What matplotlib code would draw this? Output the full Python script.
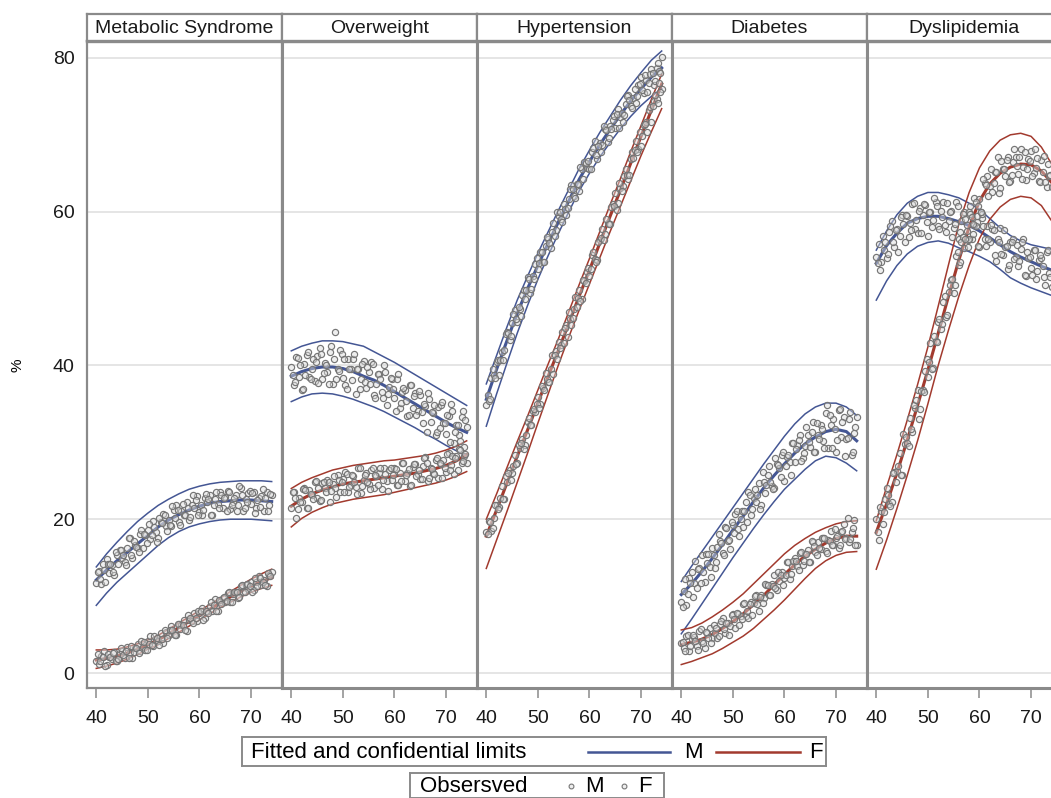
import matplotlib.pyplot as plt


titles = ["Metabolic Syndrome", "Overweight", "Hypertension", "Diabetes", "Dyslipidemia"]
x_ticks = [40, 50, 60, 70]
y_ticks = [0, 20, 40, 60, 80]

ages_fit = [40, 42, 44, 46, 48, 50, 52, 54, 56, 58, 60, 62, 64, 66, 68, 70, 72, 74]
ages_obs = [40, 40.5, 41, 41.5, 42, 42.5, 43, 43.5, 44, 44.5, 45, 45.5, 46, 46.5, 47, 47.5,
            48, 48.5, 49, 49.5, 50, 50.5, 51, 51.5, 52, 52.5, 53, 53.5, 54, 54.5, 55, 55.5,
            56, 56.5, 57, 57.5, 58, 58.5, 59, 59.5, 60, 60.5, 61, 61.5, 62, 62.5, 63, 63.5,
            64, 64.5, 65, 65.5, 66, 66.5, 67, 67.5, 68, 68.5, 69, 69.5, 70, 70.5, 71, 71.5,
            72, 72.5, 73, 73.5, 74]
ages_obs2 = [40.25, 40.75, 41.25, 41.75, 42.25, 42.75, 43.25, 43.75, 44.25, 44.75, 45.25, 45.75,
             46.25, 46.75, 47.25, 47.75, 48.25, 48.75, 49.25, 49.75, 50.25, 50.75, 51.25, 51.75,
             52.25, 52.75, 53.25, 53.75, 54.25, 54.75, 55.25, 55.75, 56.25, 56.75, 57.25, 57.75,
             58.25, 58.75, 59.25, 59.75, 60.25, 60.75, 61.25, 61.75, 62.25, 62.75, 63.25, 63.75,
             64.25, 64.75, 65.25, 65.75, 66.25, 66.75, 67.25, 67.75, 68.25, 68.75, 69.25, 69.75,
             70.25, 70.75, 71.25, 71.75, 72.25, 72.75, 73.25, 73.75]

# Metabolic syndrome
met_m_fit = [12.1, 13.4, 14.6, 15.7, 16.8, 17.9, 19.0, 19.9, 20.6, 21.2, 21.7, 22.1, 22.3, 22.4, 22.5, 22.5, 22.4, 22.3]
met_m_hi = [13.8, 15.5, 17.0, 18.4, 19.7, 20.8, 21.8, 22.6, 23.3, 23.9, 24.3, 24.6, 24.8, 24.9, 25.0, 25.0, 25.0, 24.9]
met_m_lo = [8.8, 10.4, 11.8, 13.0, 14.2, 15.4, 16.6, 17.6, 18.4, 19.0, 19.4, 19.7, 19.9, 20.0, 20.0, 20.0, 19.9, 19.8]
met_f_fit = [1.7, 1.9, 2.2, 2.6, 3.1, 3.7, 4.3, 5.1, 5.9, 6.7, 7.5, 8.3, 9.1, 9.9, 10.6, 11.3, 11.9, 12.4]
met_f_hi = [3.0, 3.0, 3.1, 3.4, 3.8, 4.3, 4.9, 5.7, 6.5, 7.3, 8.1, 8.9, 9.7, 10.6, 11.4, 12.2, 12.9, 13.5]
met_f_lo = [0.6, 0.9, 1.3, 1.8, 2.4, 3.1, 3.7, 4.5, 5.3, 6.1, 6.9, 7.7, 8.5, 9.2, 9.9, 10.5, 11.0, 11.4]
met_m_obs = [11.7, 13.3, 11.6, 13.4, 14.8, 13.0, 14.1, 12.8, 15.4, 16.0,
             15.0, 14.5, 16.3, 17.6, 15.0, 16.7, 16.3, 18.1, 16.2, 18.0,
             18.6, 17.4, 19.8, 18.4, 17.6, 19.7, 20.7, 19.1, 19.9, 19.1,
             21.2, 21.9, 19.7, 21.1, 20.5, 22.2, 19.9, 21.9, 21.4, 23.0,
             21.0, 20.6, 22.7, 22.2, 23.1, 20.6, 22.6, 22.0, 23.5, 21.5,
             22.9, 23.7, 21.3, 22.2, 23.2, 21.9, 24.0, 21.1, 22.6, 23.4,
             22.0, 23.6, 21.5, 22.7, 23.0, 21.1, 23.6, 21.9, 23.1]
met_m_obs2 = [13.1, 12.2, 14.2, 11.8, 14.2, 14.2, 13.1, 15.7, 14.2, 16.0,
              15.4, 14.0, 17.5, 15.4, 17.2, 16.4, 15.7, 18.6, 18.1, 16.9,
              19.4, 18.0, 19.0, 17.1, 20.2, 19.5, 20.5, 18.5, 19.2, 21.7,
              20.2, 21.2, 19.3, 22.0, 20.6, 21.4, 20.3, 23.1, 22.5, 20.6,
              21.8, 21.2, 23.3, 22.6, 20.6, 21.9, 23.6, 21.4, 23.1, 22.8,
              21.1, 23.5, 21.9, 22.7, 21.1, 24.3, 23.2, 21.5, 22.3, 23.7,
              23.4, 20.8, 22.5, 21.6, 23.9, 22.7, 21.1, 23.3]
met_f_obs = [1.6, 1.2, 2.2, 2.8, 1.1, 2.1, 1.8, 2.7, 1.5, 2.5,
             2.8, 2.0, 3.4, 2.6, 2.0, 3.3, 3.8, 2.9, 3.4, 3.0,
             4.2, 4.8, 3.5, 4.3, 4.1, 5.2, 3.9, 5.3, 5.0, 6.1,
             5.1, 5.0, 6.4, 6.2, 6.9, 5.5, 6.9, 6.7, 7.8, 6.8,
             7.8, 8.5, 7.2, 8.0, 8.7, 8.1, 9.6, 8.1, 9.2, 9.8,
             9.2, 10.4, 9.3, 10.3, 10.6, 9.7, 11.3, 10.5, 11.4, 10.9,
             11.8, 10.8, 11.8, 12.6, 11.5, 12.1, 11.3, 12.8, 13.1]
met_f_obs2 = [2.5, 1.6, 2.1, 0.9, 2.5, 2.1, 2.6, 1.5, 1.8, 3.2,
              2.4, 2.9, 1.9, 3.5, 2.7, 3.2, 2.6, 4.2, 4.0, 3.0,
              3.8, 3.6, 4.8, 4.5, 3.6, 4.4, 5.6, 4.5, 5.6, 5.6,
              4.9, 6.4, 5.7, 6.3, 5.6, 7.6, 7.2, 6.5, 7.1, 8.1,
              8.1, 6.9, 8.1, 7.8, 9.2, 8.8, 8.1, 9.5, 9.0, 9.9,
              9.4, 10.5, 9.2, 10.5, 10.5, 9.9, 11.4, 10.6, 11.6, 11.3,
              10.5, 12.4, 11.3, 12.3, 11.9, 11.4, 13.0, 12.6]

# Overweight
ovw_m_fit = [38.6, 39.2, 39.6, 39.8, 39.8, 39.6, 39.2, 38.6, 38.1, 37.4, 36.6, 35.8, 35.0, 34.2, 33.4, 32.6, 31.9, 31.3]
ovw_m_hi = [41.9, 42.5, 42.9, 43.2, 43.2, 43.1, 42.8, 42.5, 41.8, 41.1, 40.4, 39.6, 38.8, 38.0, 37.2, 36.4, 35.6, 34.8]
ovw_m_lo = [35.3, 35.9, 36.3, 36.4, 36.3, 36.0, 35.6, 35.1, 34.6, 34.0, 33.3, 32.6, 31.9, 31.1, 30.4, 29.6, 28.9, 28.2]
ovw_f_fit = [21.7, 22.6, 23.3, 23.8, 24.2, 24.6, 24.8, 25.0, 25.2, 25.4, 25.6, 25.8, 26.0, 26.3, 26.6, 27.0, 27.6, 28.4]
ovw_f_hi = [24.0, 24.8, 25.4, 25.9, 26.4, 26.7, 27.0, 27.2, 27.4, 27.6, 27.7, 27.9, 28.1, 28.3, 28.6, 29.0, 29.5, 30.2]
ovw_f_lo = [19.0, 20.1, 20.9, 21.5, 22.0, 22.3, 22.6, 22.8, 23.0, 23.2, 23.5, 23.8, 24.1, 24.4, 24.7, 25.1, 25.6, 26.2]
ovw_m_obs = [39.8, 37.4, 41.1, 38.5, 36.8, 40.2, 41.4, 38.5, 39.6, 38.0,
             41.2, 42.3, 38.3, 40.3, 39.1, 41.7, 37.6, 44.3, 39.5, 42.0,
             38.4, 37.5, 40.8, 39.6, 40.9, 36.3, 39.6, 38.2, 40.6, 37.1,
             39.2, 40.4, 36.2, 37.6, 38.9, 36.6, 40.0, 34.8, 37.2, 38.3,
             35.8, 38.3, 34.5, 36.5, 36.8, 33.4, 37.4, 34.5, 36.4, 34.1,
             36.1, 32.5, 34.7, 36.4, 32.6, 33.8, 30.9, 34.6, 34.9, 32.5,
             31.1, 33.4, 35.0, 29.9, 32.2, 30.9, 33.3, 29.4, 32.0]
ovw_m_obs2 = [38.7, 37.8, 41.0, 40.0, 36.9, 38.8, 41.7, 38.2, 40.8, 40.4,
              37.7, 41.5, 39.0, 40.1, 37.6, 42.5, 40.8, 38.2, 39.3, 41.5,
              40.9, 36.9, 39.5, 38.1, 41.5, 39.5, 37.0, 40.2, 37.9, 39.8,
              37.6, 40.2, 35.8, 38.9, 38.2, 35.8, 39.2, 36.3, 38.4, 36.9,
              34.1, 38.9, 35.1, 37.1, 35.4, 33.6, 37.5, 36.0, 33.5, 36.7,
              34.0, 35.0, 31.4, 35.6, 34.0, 34.9, 31.3, 31.9, 35.3, 32.5,
              33.5, 30.1, 34.1, 31.3, 32.3, 30.2, 34.1, 32.9]
ovw_f_obs = [21.4, 23.6, 20.2, 22.7, 22.2, 24.0, 21.5, 23.8, 23.2, 24.9,
             22.8, 22.4, 24.7, 24.1, 25.1, 22.3, 24.6, 24.0, 25.7, 23.6,
             25.2, 26.1, 23.5, 24.5, 25.6, 24.2, 26.6, 23.4, 25.1, 26.0,
             24.6, 26.4, 24.1, 25.6, 26.0, 23.9, 26.7, 25.0, 26.4, 25.1,
             26.6, 24.4, 26.0, 27.3, 25.0, 26.0, 24.3, 26.8, 27.2, 25.9,
             25.2, 26.9, 28.1, 25.0, 26.7, 26.0, 27.7, 25.4, 27.2, 27.7,
             26.1, 28.6, 27.0, 25.9, 28.2, 29.1, 27.3, 28.2, 27.3]
ovw_f_obs2 = [23.6, 22.7, 21.3, 22.3, 23.9, 23.8, 21.4, 23.3, 22.6, 25.0,
              24.0, 22.5, 24.8, 23.5, 24.9, 23.7, 25.6, 22.9, 25.1, 24.9,
              23.5, 25.9, 24.2, 25.8, 24.9, 23.3, 26.6, 24.3, 25.8, 24.9,
              23.9, 26.6, 25.8, 24.4, 26.7, 25.1, 25.9, 23.7, 26.6, 25.8,
              26.5, 24.4, 25.0, 27.3, 25.7, 26.5, 24.5, 27.2, 25.6, 26.4,
              25.2, 27.9, 27.3, 25.3, 26.5, 25.9, 28.0, 27.3, 25.3, 26.6,
              28.5, 26.4, 28.2, 28.0, 26.4, 29.0, 27.6, 28.5]

# Hypertension
hyp_m_fit = [35.6, 39.5, 43.2, 46.8, 50.0, 53.0, 55.9, 58.7, 61.4, 64.2, 66.5, 68.7, 70.7, 72.6, 74.4, 76.0, 77.5, 78.7]
hyp_m_hi = [37.6, 41.3, 45.0, 48.5, 51.6, 54.6, 57.4, 60.2, 62.9, 65.6, 68.0, 70.3, 72.4, 74.5, 76.4, 78.1, 79.7, 80.9]
hyp_m_lo = [32.1, 36.3, 40.3, 44.2, 47.8, 51.2, 54.3, 57.2, 60.0, 62.7, 65.0, 67.1, 69.0, 70.8, 72.4, 73.8, 75.0, 76.0]
hyp_f_fit = [17.8, 21.2, 24.7, 28.2, 31.6, 35.1, 38.6, 42.0, 45.5, 49.0, 52.4, 55.9, 59.4, 62.8, 66.3, 69.8, 73.2, 76.6]
hyp_f_hi = [20.0, 23.3, 26.7, 30.1, 33.4, 36.8, 40.2, 43.5, 47.0, 50.5, 53.9, 57.4, 60.9, 64.3, 67.8, 71.2, 74.6, 77.9]
hyp_f_lo = [13.6, 17.3, 21.0, 24.8, 28.6, 32.5, 36.3, 40.1, 43.7, 47.2, 50.6, 54.0, 57.4, 60.7, 64.0, 67.3, 70.4, 73.4]
hyp_m_obs = [34.9, 35.4, 38.4, 38.7, 40.5, 38.8, 41.8, 42.0, 44.4, 43.3,
             45.5, 47.2, 45.7, 47.4, 49.1, 48.6, 51.5, 49.4, 51.6, 53.2,
             52.5, 54.8, 53.5, 55.5, 56.5, 55.3, 58.5, 57.6, 59.5, 59.0,
             61.0, 59.6, 61.7, 63.5, 62.1, 63.6, 62.7, 65.6, 66.5, 65.7,
             65.6, 67.7, 69.2, 66.9, 68.9, 68.7, 70.7, 69.0, 71.1, 71.9,
             70.9, 73.4, 72.3, 71.7, 74.0, 75.2, 73.8, 74.8, 74.2, 76.5,
             77.5, 75.5, 77.1, 76.7, 78.6, 76.5, 78.7, 78.3, 80.1]
hyp_m_obs2 = [36.2, 35.7, 39.5, 38.4, 40.7, 40.7, 40.7, 44.1, 44.2, 43.8,
              46.7, 46.1, 47.6, 46.4, 49.8, 49.8, 51.2, 49.9, 51.2, 54.0,
              53.3, 54.7, 53.5, 56.7, 55.9, 57.3, 56.8, 59.9, 60.0, 58.7,
              60.4, 60.5, 63.0, 63.0, 61.8, 63.6, 65.8, 64.3, 66.3, 66.6,
              65.6, 68.3, 67.4, 68.6, 67.7, 71.1, 70.6, 69.6, 70.8, 72.5,
              72.7, 70.9, 72.9, 72.6, 75.1, 74.5, 73.5, 75.9, 75.0, 76.6,
              75.8, 77.8, 75.6, 77.9, 78.0, 77.0, 79.4, 78.1]
hyp_f_obs = [18.3, 19.8, 18.5, 20.2, 21.9, 21.6, 24.3, 22.6, 24.8, 26.4,
             26.0, 28.3, 27.3, 29.3, 30.5, 29.6, 32.7, 32.2, 34.1, 33.9,
             35.9, 35.0, 37.1, 39.0, 37.9, 39.5, 38.9, 41.9, 43.0, 42.7,
             42.9, 45.2, 46.9, 45.2, 47.4, 47.6, 49.8, 48.7, 51.0, 52.2,
             51.7, 54.4, 53.9, 53.7, 56.3, 57.8, 57.1, 58.5, 58.4, 61.0,
             62.4, 61.1, 63.1, 63.3, 65.5, 64.2, 66.8, 67.0, 69.2, 68.2,
             68.6, 71.3, 71.6, 73.2, 71.7, 74.4, 74.6, 76.8, 75.9]
hyp_f_obs2 = [18.1, 19.6, 18.8, 21.8, 21.3, 22.8, 22.6, 25.6, 26.0, 25.1,
              26.9, 27.2, 29.7, 29.9, 29.1, 30.9, 33.2, 32.2, 34.4, 35.0,
              34.5, 37.3, 36.8, 38.3, 37.8, 41.3, 41.3, 40.8, 42.3, 44.3,
              44.9, 43.7, 46.0, 46.2, 48.9, 48.8, 48.4, 51.1, 50.7, 52.7,
              52.5, 54.8, 53.4, 56.0, 56.6, 56.3, 59.0, 58.4, 60.6, 60.7,
              60.2, 63.7, 62.7, 64.7, 64.8, 64.8, 67.8, 68.0, 67.7, 70.4,
              69.9, 71.4, 70.4, 73.6, 73.8, 75.2, 74.2, 75.6]

# Diabetes
dia_m_fit = [10.2, 11.6, 13.2, 14.9, 16.7, 18.6, 20.4, 22.3, 24.1, 25.7, 27.2, 28.6, 29.8, 30.7, 31.4, 31.7, 31.4, 30.2]
dia_m_hi = [11.9, 13.9, 15.8, 17.7, 19.6, 21.5, 23.4, 25.3, 27.2, 29.0, 30.8, 32.4, 33.7, 34.6, 35.1, 35.1, 34.6, 33.5]
dia_m_lo = [5.1, 7.0, 9.0, 11.0, 13.0, 15.0, 16.9, 18.8, 20.6, 22.3, 23.9, 25.2, 26.5, 27.6, 28.2, 28.0, 27.3, 26.3]
dia_f_fit = [3.7, 4.0, 4.4, 5.0, 5.8, 6.7, 7.7, 8.9, 10.1, 11.5, 12.8, 14.1, 15.2, 16.1, 16.9, 17.5, 17.8, 17.8]
dia_f_hi = [5.6, 5.9, 6.5, 7.3, 8.2, 9.2, 10.3, 11.6, 12.9, 14.2, 15.5, 16.6, 17.5, 18.3, 18.9, 19.4, 19.7, 19.8]
dia_f_lo = [1.1, 1.5, 2.0, 2.5, 3.2, 4.0, 4.8, 5.8, 7.0, 8.2, 9.5, 10.9, 12.3, 13.6, 14.6, 15.3, 15.7, 15.8]
dia_m_obs = [9.2, 10.7, 8.8, 12.4, 13.1, 11.7, 11.1, 13.6, 15.4, 11.8,
             14.3, 13.8, 16.3, 13.7, 16.4, 17.2, 15.6, 19.0, 17.2, 16.1,
             19.3, 20.7, 18.7, 20.0, 19.0, 22.2, 23.5, 20.5, 22.7, 22.2,
             24.7, 21.8, 24.9, 24.4, 26.9, 24.3, 24.0, 27.2, 26.7, 28.3,
             25.0, 28.1, 27.5, 29.9, 27.5, 29.6, 31.0, 28.0, 29.5, 31.0,
             29.4, 32.6, 28.7, 31.0, 32.3, 30.2, 33.8, 29.3, 32.2, 33.0,
             28.8, 34.2, 30.7, 33.3, 30.5, 33.1, 28.4, 31.2, 33.3]
dia_m_obs2 = [8.6, 12.2, 10.3, 11.7, 9.9, 14.6, 13.5, 11.7, 13.1, 15.5,
              15.5, 12.5, 15.3, 14.5, 18.1, 16.9, 15.3, 18.8, 17.3, 19.6,
              18.2, 21.1, 17.8, 21.1, 21.1, 19.6, 23.2, 21.3, 23.9, 23.1,
              21.3, 26.1, 23.4, 25.8, 24.8, 23.9, 27.9, 27.0, 25.5, 28.8,
              26.9, 28.3, 25.7, 29.9, 29.1, 30.3, 27.6, 28.6, 32.0, 30.0,
              31.3, 28.7, 32.5, 30.4, 31.8, 29.3, 34.9, 33.6, 29.3, 31.7,
              30.3, 34.3, 32.7, 28.2, 30.6, 33.9, 28.8, 32.0]
dia_f_obs = [3.9, 3.3, 4.8, 2.9, 4.4, 4.7, 3.5, 5.5, 4.1, 3.3,
             5.2, 5.9, 4.5, 5.2, 4.5, 6.4, 7.2, 5.2, 6.5, 6.1,
             7.7, 5.8, 7.7, 7.4, 9.0, 7.4, 7.2, 9.3, 9.1, 10.1,
             8.1, 10.2, 9.8, 11.5, 10.1, 11.6, 12.7, 10.8, 12.0, 13.1,
             12.3, 14.5, 12.2, 13.9, 14.9, 13.9, 15.6, 14.0, 15.5, 16.0,
             14.5, 17.0, 15.7, 17.0, 16.1, 17.5, 15.9, 17.3, 18.5, 16.7,
             17.6, 16.2, 18.4, 19.4, 17.6, 17.0, 18.3, 19.9, 16.6]
dia_f_obs2 = [4.0, 2.9, 4.9, 3.5, 4.9, 4.2, 3.0, 5.7, 3.9, 5.3,
              4.6, 3.9, 6.3, 5.8, 4.8, 6.8, 5.7, 6.5, 4.9, 7.5,
              7.0, 7.8, 6.3, 7.0, 9.1, 8.1, 9.0, 7.6, 10.0, 9.0,
              9.9, 9.1, 11.6, 11.4, 10.1, 11.3, 11.1, 13.1, 12.8, 11.4,
              12.7, 14.5, 12.9, 14.6, 14.6, 13.4, 15.7, 14.6, 15.5, 14.4,
              17.2, 16.5, 15.4, 16.2, 17.6, 17.5, 15.6, 17.2, 16.7, 18.7,
              17.8, 16.6, 18.5, 17.4, 20.1, 17.4, 18.9, 16.6]

# Dyslipidemia
dys_m_fit = [53.3, 55.6, 57.2, 58.5, 59.1, 59.4, 59.4, 59.1, 58.7, 58.2, 57.5, 56.6, 55.7, 54.8, 54.1, 53.5, 52.9, 52.4]
dys_m_hi = [55.0, 57.5, 59.6, 61.1, 62.0, 62.5, 62.5, 62.2, 61.8, 61.1, 60.3, 59.1, 57.9, 56.9, 56.2, 55.7, 55.4, 55.1]
dys_m_lo = [48.5, 51.0, 53.0, 54.5, 55.5, 56.0, 56.2, 55.9, 55.3, 54.8, 54.2, 53.5, 52.5, 51.4, 50.7, 50.1, 49.6, 49.1]
dys_f_fit = [18.3, 22.0, 26.0, 30.3, 34.8, 39.4, 44.2, 49.0, 53.7, 58.0, 61.4, 63.6, 65.0, 65.8, 66.2, 66.1, 65.3, 63.8]
dys_f_hi = [19.8, 24.2, 28.4, 32.9, 37.5, 42.4, 47.7, 53.1, 58.4, 62.5, 65.7, 67.9, 69.3, 70.0, 70.2, 69.8, 68.4, 66.2]
dys_f_lo = [13.5, 17.3, 21.4, 25.7, 30.2, 35.0, 40.0, 44.6, 49.0, 53.0, 56.5, 59.0, 60.6, 61.6, 62.0, 61.8, 60.8, 58.8]
dys_m_obs = [54.1, 55.8, 53.5, 55.0, 54.0, 57.4, 58.8, 55.4, 57.7, 56.9,
             59.6, 56.1, 59.5, 58.5, 61.0, 57.8, 57.2, 60.5, 59.6, 60.9,
             56.8, 60.0, 58.9, 61.3, 58.1, 60.1, 61.3, 57.4, 58.8, 60.1,
             57.9, 61.2, 56.5, 58.8, 59.9, 57.5, 60.0, 56.4, 58.3, 58.7,
             55.4, 59.2, 56.4, 58.1, 56.0, 57.8, 54.4, 56.4, 57.9, 54.4,
             55.4, 52.6, 56.1, 56.4, 54.1, 52.9, 55.1, 56.5, 51.7, 54.0,
             52.7, 55.0, 51.3, 53.7, 54.0, 51.5, 54.7, 52.0, 50.2]
dys_m_obs2 = [53.3, 52.4, 56.8, 56.1, 54.5, 58.1, 56.1, 57.6, 54.8, 59.3,
              58.4, 59.6, 56.7, 57.6, 61.1, 58.9, 60.1, 57.2, 61.0, 58.7,
              59.9, 58.0, 61.8, 60.8, 57.8, 59.3, 58.3, 61.1, 59.9, 56.7,
              58.4, 60.8, 57.4, 59.7, 59.0, 56.3, 59.7, 57.1, 58.1, 55.5,
              60.0, 58.1, 55.5, 56.4, 58.3, 57.6, 53.6, 56.0, 54.5, 57.6,
              55.6, 53.1, 56.1, 53.9, 55.7, 53.6, 56.0, 51.8, 54.7, 54.1,
              51.8, 55.0, 52.3, 54.4, 53.0, 50.5, 55.0, 51.5]
dys_f_obs = [20.0, 17.3, 21.1, 21.0, 24.1, 22.0, 22.2, 26.2, 26.3, 28.6,
             25.8, 29.8, 29.9, 33.2, 31.4, 34.5, 36.8, 34.3, 36.8, 39.3,
             38.5, 42.9, 39.7, 43.2, 45.6, 44.7, 48.3, 46.3, 49.5, 51.1,
             49.4, 54.3, 53.1, 56.0, 55.3, 58.3, 56.4, 59.3, 61.8, 59.5,
             61.6, 59.7, 63.7, 64.7, 63.3, 62.6, 65.2, 67.1, 63.1, 65.5,
             64.7, 67.1, 64.0, 66.5, 67.1, 64.9, 68.2, 65.8, 64.1, 66.9,
             67.9, 65.0, 65.7, 64.0, 66.7, 67.2, 63.2, 64.7, 63.2]
dys_f_obs2 = [18.3, 21.6, 19.4, 22.6, 23.1, 21.7, 26.0, 24.8, 26.9, 25.7,
              31.1, 30.7, 29.5, 31.7, 34.8, 35.5, 33.1, 36.7, 36.6, 40.9,
              40.5, 39.6, 43.8, 43.0, 46.0, 45.4, 49.0, 46.5, 50.5, 51.2,
              50.4, 54.8, 53.5, 56.7, 56.5, 55.4, 60.7, 58.4, 61.2, 60.7,
              60.0, 64.2, 63.5, 62.1, 65.6, 63.7, 65.1, 62.4, 66.6, 65.6,
              66.7, 63.9, 64.8, 68.1, 65.9, 67.1, 64.3, 67.8, 65.5, 66.6,
              64.7, 68.1, 67.0, 63.9, 65.1, 63.8, 66.2, 64.8]

BLUE = '#445694'
RED = '#a23a2e'
FRAME = '#8a8a8a'
DOT = '#767676'
DOT_FILL = (0.86, 0.86, 0.86, 0.45)
NARROW = ['Liberation Sans Narrow', 'Liberation Sans', 'DejaVu Sans']


def px(x, y, w, h):
    """pixel box (from top-left) -> figure fraction"""
    W, H = 1051, 798
    return [x / W, (H - y - h) / H, w / W, h / H]


def style_frame(ax, lw=1.8):
    for s in ax.spines.values():
        s.set_color(FRAME)
        s.set_linewidth(lw)


def main():
    plt.rcParams['font.family'] = ['Liberation Sans', 'DejaVu Sans']
    fig = plt.figure(figsize=(10.51, 7.98), dpi=100)

    panels = [
        (met_m_fit, met_m_lo, met_m_hi, met_m_obs, met_m_obs2,
         met_f_fit, met_f_lo, met_f_hi, met_f_obs, met_f_obs2),
        (ovw_m_fit, ovw_m_lo, ovw_m_hi, ovw_m_obs, ovw_m_obs2,
         ovw_f_fit, ovw_f_lo, ovw_f_hi, ovw_f_obs, ovw_f_obs2),
        (hyp_m_fit, hyp_m_lo, hyp_m_hi, hyp_m_obs, hyp_m_obs2,
         hyp_f_fit, hyp_f_lo, hyp_f_hi, hyp_f_obs, hyp_f_obs2),
        (dia_m_fit, dia_m_lo, dia_m_hi, dia_m_obs, dia_m_obs2,
         dia_f_fit, dia_f_lo, dia_f_hi, dia_f_obs, dia_f_obs2),
        (dys_m_fit, dys_m_lo, dys_m_hi, dys_m_obs, dys_m_obs2,
         dys_f_fit, dys_f_lo, dys_f_hi, dys_f_obs, dys_f_obs2),
    ]

    left0, width = 87, 195
    for i, (title, series) in enumerate(zip(titles, panels)):
        left = left0 + i * width
        ax = fig.add_axes(px(left, 41, width, 647))
        m_fit, m_lo, m_hi, m_obs, m_obs2, f_fit, f_lo, f_hi, f_obs, f_obs2 = series

        for lo, hi, fit, col in [(m_lo, m_hi, m_fit, BLUE), (f_lo, f_hi, f_fit, RED)]:
            ax.plot(ages_fit, lo, color=col, lw=1.1, zorder=2)
            ax.plot(ages_fit, hi, color=col, lw=1.1, zorder=2)
            ax.plot(ages_fit, fit, color=col, lw=2.2, zorder=2)
        for obs, obs2 in ((m_obs, m_obs2), (f_obs, f_obs2)):
            ax.scatter(ages_obs + ages_obs2, obs + obs2, s=20, facecolors=[DOT_FILL],
                       edgecolors=DOT, linewidths=0.85, zorder=3)

        ax.set_xlim(38.2, 76.0)
        ax.set_ylim(-1.95, 82.2)
        ax.set_yticks(y_ticks)
        ax.grid(axis='y', color='#e3e3e3', lw=1.3)
        ax.set_axisbelow(True)
        ax.set_xticks(x_ticks)
        ax.set_xticklabels([str(t) for t in x_ticks], fontsize=14, family=NARROW, color='#1a1a1a')
        ax.tick_params(axis='x', length=7, width=1.1, color=FRAME, pad=9)
        if i == 0:
            ax.set_yticklabels([str(t) for t in y_ticks], fontsize=14, family=NARROW, color='#1a1a1a')
            ax.tick_params(axis='y', length=0, pad=9)
        else:
            ax.tick_params(axis='y', length=0, labelleft=False)
        style_frame(ax, 2.2 if i > 0 else 1.6)

        # strip header above each panel
        hax = fig.add_axes(px(left, 14, width, 27))
        hax.set_xticks([])
        hax.set_yticks([])
        hax.text(0.5, 0.47, title, ha='center', va='center', fontsize=14, color='#1a1a1a',
                 transform=hax.transAxes)
        style_frame(hax, 1.6)
        hax.spines['bottom'].set_linewidth(2.4)

    fig.text(18 / 1051, (798 - 365) / 798, '%', rotation=90, ha='center', va='center',
             fontsize=11)

    # legend for the fitted curves
    lg = fig.add_axes(px(242, 737, 584, 29))
    lg.set_xlim(0, 584)
    lg.set_ylim(0, 29)
    lg.set_xticks([])
    lg.set_yticks([])
    style_frame(lg, 1.4)
    lg.text(9, 14, 'Fitted and confidential limits', va='center', fontsize=16)
    lg.plot([346, 428], [14.5, 14.5], color=BLUE, lw=1.8)
    lg.text(442, 14, 'M', va='center', fontsize=16)
    lg.plot([474, 558], [14.5, 14.5], color=RED, lw=1.8)
    lg.text(567, 14, 'F', va='center', fontsize=16)

    # legend for the observed points
    lo = fig.add_axes(px(410, 773, 254, 25))
    lo.set_xlim(0, 254)
    lo.set_ylim(0, 25)
    lo.set_xticks([])
    lo.set_yticks([])
    style_frame(lo, 1.4)
    lo.text(10, 12, 'Obsersved', va='center', fontsize=16)
    lo.scatter([161, 214], [12.5, 12.5], s=12, facecolors=[DOT_FILL], edgecolors=DOT,
               linewidths=0.8)
    lo.text(175, 12, 'M', va='center', fontsize=16)
    lo.text(228, 12, 'F', va='center', fontsize=16)

    fig.savefig('out.png', dpi=100)


if __name__ == "__main__":
    main()
